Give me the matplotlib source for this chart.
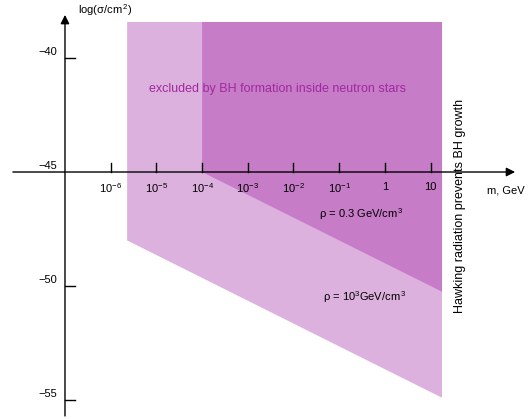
import matplotlib
matplotlib.use("Agg")
import matplotlib.pyplot as plt

plt.rcParams["font.family"] = ["Liberation Sans", "DejaVu Sans"]
plt.rcParams["mathtext.fontset"] = "custom"
plt.rcParams["mathtext.rm"] = "Liberation Sans"
plt.rcParams["mathtext.it"] = "Liberation Sans:italic"
plt.rcParams["mathtext.sf"] = "Liberation Sans"
plt.rcParams["mathtext.default"] = "regular"

# Data (log10 m in GeV, log10 sigma in cm^2)
xDecades = [-6, -5, -4, -3, -2, -1, 0, 1]
xLabels = ["10$^{-6}$", "10$^{-5}$", "10$^{-4}$", "10$^{-3}$",
           "10$^{-2}$", "10$^{-1}$", "1", "10"]
yTicks = [-40, -45, -50, -55]

# rho = 10^3 GeV/cm^3 excluded region (light)
lightX = [-5.64, 1.25, 1.25, -5.64]
lightY = [-38.42, -38.42, -54.9, -48.0]
# rho = 0.3 GeV/cm^3 excluded region (dark)
darkX = [-4.0, 1.25, 1.25, -4.0]
darkY = [-38.42, -38.42, -50.25, -45.0]

originX, originY = -7.0, -45.0

fig = plt.figure(figsize=(5.32, 4.19), dpi=100)
ax = fig.add_axes([0, 0, 1, 1])
ax.set_xlim(-8.422, 3.219)
ax.set_ylim(-55.833, -37.456)
ax.axis("off")

# Shaded regions
ax.fill(lightX, lightY, color="#ddb1dd", lw=0, zorder=1)
ax.fill(darkX, darkY, color="#c67cc6", lw=0, zorder=2)

# Axes with arrows
arrowProps = dict(arrowstyle="-|>", lw=1.0, color="black", mutation_scale=13,
                  shrinkA=0, shrinkB=0)
ax.annotate("", xy=(2.85, originY), xytext=(-8.14, originY),
            arrowprops=arrowProps, zorder=5)
ax.annotate("", xy=(originX, -38.11), xytext=(originX, -55.7),
            arrowprops=arrowProps, zorder=5)

# x ticks
for d, lab in zip(xDecades, xLabels):
    ax.plot([d, d], [originY, originY + 0.39], color="black", lw=1.0, zorder=5)
    ax.text(d, originY - 0.42, lab, ha="center", va="top", fontsize=8)

# y ticks
for v in yTicks:
    if v != originY:
        ax.plot([originX, originX + 0.22], [v, v], color="black", lw=1.0, zorder=5)
    ax.text(originX - 0.175, v + 0.27, "\u2212" + str(abs(v)), ha="right",
            va="center", fontsize=8)

# Axis labels
ax.text(2.234, -45.79, "m, GeV", ha="left", va="center", fontsize=8)
ax.text(-6.716, -37.89, "log(\u03c3/cm$^{\\,2}$)", ha="left", va="center", fontsize=8)

# Annotations
ax.text(-2.36, -41.36, "excluded by BH formation inside neutron stars",
        ha="center", va="center", fontsize=9, color="#a0299f", zorder=6)
ax.text(-0.523, -46.84, "\u03c1 = 0.3 GeV/cm$^{\\,3}$", ha="center", va="center",
        fontsize=8, zorder=6)
ax.text(-0.435, -50.48, "\u03c1 = 10$^{3}$GeV/cm$^{\\,3}$", ha="center", va="center",
        fontsize=8, zorder=6)
ax.text(1.643, -46.49, "Hawking radiation prevents BH growth", ha="center",
        va="center", rotation=90, fontsize=9, zorder=6)

fig.savefig("out.png", dpi=100)
plt.close(fig)
